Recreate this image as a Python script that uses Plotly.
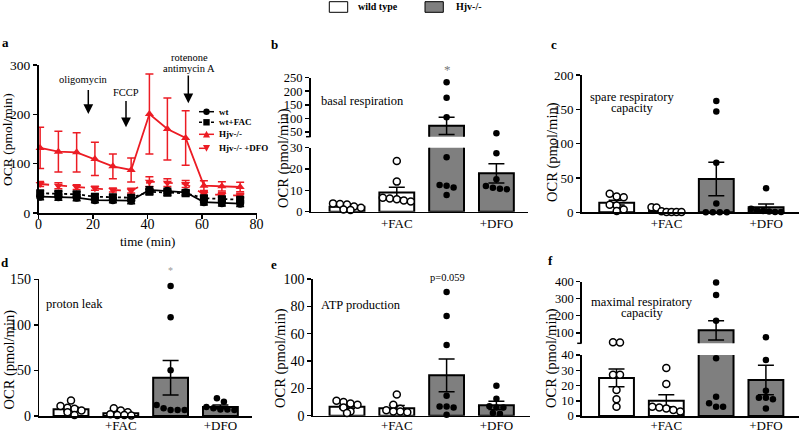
import plotly.graph_objects as go

SERIF = "Liberation Serif"
W, H = 800, 434
RED = "#ec1c24"
GRAY = "#7f7f7f"

# ---------------- panel a : OCR time course ----------------
time_min = [0.6, 7.3, 14.0, 20.7, 27.3, 34.0, 40.7, 47.3, 54.0, 60.7, 67.3, 74.0]
wt_ocr = [33, 32, 31, 26, 26, 25, 47, 45, 42, 22, 20, 19]
wt_sem = [6, 6, 6, 5, 5, 6, 6, 5, 5, 6, 6, 6]
wtfac_ocr = [40, 39, 38, 33, 32, 31, 43, 41, 40, 30, 28, 27]
wtfac_sem = [5, 5, 5, 5, 5, 5, 5, 5, 5, 5, 5, 5]
hjv_ocr = [131.8, 124.3, 123.0, 109.5, 94.6, 87.2, 200.7, 170.3, 152.0, 55.4, 54.0, 52.7]
hjv_sem = [41.8, 41.2, 39.8, 33.7, 25.0, 24.3, 81.0, 62.7, 55.4, 10.0, 9.5, 9.5]
hjvdfo_ocr = [58.8, 55.4, 52.5, 50.0, 46.6, 45.3, 63.5, 61.5, 58.8, 38.5, 36.5, 35.1]
hjvdfo_sem = [5, 6, 5, 4, 4, 5, 10, 8, 7, 5, 5, 5]

# ---------------- bar panels (groups) ----------------
groups = ["wild type", "wild type +FAC", "Hjv-/-", "Hjv-/- +DFO"]
group_ticks = ["+FAC", "+DFO"]

basal_mean = [2.3, 9.0, 72.0, 18.0]
basal_sem = [0.5, 2.5, 32.0, 4.5]
basal_wt = [3.9, 3.6, 3.4, 2.4, 1.8, 1.0, 0.8]
basal_wtfac = [23.8, 14.1, 6.5, 6.2, 5.8, 5.3, 4.8]
basal_hjv = [233, 176, 104, 25.5, 12.5, 12.2, 11.4, 7.8]
basal_hjvdfo = [45, 27.4, 15.2, 12.0, 11.2, 10.8, 10.5]

spare_mean = [14.0, 2.0, 48.5, 7.3]
spare_sem = [3.5, 1.3, 24.5, 4.7]
spare_wt = [27, 23, 22, 11, 10, 4, 2]
spare_wtfac = [7.5, 7, 1.5, 0.5, 0.3, 0.3, 0.3]
spare_hjv = [162, 147, 72, 13, 0, 0, 0, 0]
spare_hjvdfo = [35, 5, 3, 2, 1, 0.5, 0.5]

leak_mean = [7.5, 3.0, 42.0, 10.0]
leak_sem = [2.0, 1.2, 19.0, 2.0]
leak_wt = [17, 11, 9, 8, 6, 4, 1]
leak_wtfac = [8.5, 6, 4, 2, 1, 1, 0.5]
leak_hjv = [142.7, 108.3, 50.1, 12, 8.4, 6.6, 6.6, 6.6]
leak_hjvdfo = [19.5, 15.5, 10, 8.5, 7, 6.5, 7]

atp_mean = [6.5, 5.5, 29.5, 7.6]
atp_sem = [1.2, 2.0, 12.0, 3.0]
atp_wt = [11, 10, 9, 8, 6, 3, 2]
atp_wtfac = [15.5, 8, 5, 4, 3, 3, 2.5]
atp_hjv = [90.5, 73, 51.7, 14.6, 6.8, 6.8, 6.0, 0.7]
atp_hjvdfo = [22, 12.4, 7, 6, 6, 2, 1.5]

max_mean = [25.0, 10.0, 114.0, 23.6]
max_sem = [5.8, 4.0, 57.0, 9.7]
max_wt = [44, 43, 27, 27, 17, 11, 6]
max_wtfac = [31.5, 21, 6, 5.5, 5, 4, 3]
max_hjv = [396, 322, 171, 37.8, 12.7, 8.3, 6.1, 6.1]
max_hjvdfo = [73, 36.7, 16.6, 12, 12, 11, 5]


# ---------------- helpers ----------------
def px_x(p):
    return p / W


def px_y(p):
    return 1 - p / H


fig = go.Figure()
lay = dict(template="none", width=W, height=H, margin=dict(l=0, r=0, t=0, b=0, pad=0),
           paper_bgcolor="white", plot_bgcolor="rgba(0,0,0,0)",
           showlegend=False, font=dict(family=SERIF, color="black"))
shapes = []
annos = []
counter = [0]


def axis_style(fs):
    return dict(showline=True, linecolor="black", linewidth=1.5, ticks="outside",
                ticklen=4, tickwidth=1.5, tickcolor="black", showgrid=False,
                zeroline=False, fixedrange=True, automargin=False,
                tickfont=dict(family=SERIF, size=fs, color="black"))


def new_axes(x0, x1, ytop, ybot, xrange, yrange, xkw, ykw):
    counter[0] += 1
    n = counter[0]
    s = "" if n == 1 else str(n)
    lay["xaxis" + s] = dict(domain=[px_x(x0), px_x(x1)], range=xrange, anchor="y" + s, **xkw)
    lay["yaxis" + s] = dict(domain=[px_y(ybot), px_y(ytop)], range=yrange, anchor="x" + s, **ykw)
    return "x" + s, "y" + s


def text(x, y, t, size=12.5, color="black", xanchor="center", bold=False, angle=0):
    annos.append(dict(x=px_x(x), y=px_y(y), xref="paper", yref="paper",
                      text=("<b>%s</b>" % t) if bold else t, showarrow=False,
                      xanchor=xanchor, yanchor="middle", textangle=angle,
                      font=dict(family=SERIF, size=size, color=color)))


def arrow(x, ytip, ytail):
    annos.append(dict(x=px_x(x), y=px_y(ytip), xref="paper", yref="paper", text="",
                      showarrow=True, ax=0, ay=ytail - ytip, axref="pixel", ayref="pixel",
                      arrowhead=2, arrowsize=1.3, arrowwidth=1.5, arrowcolor="black",
                      standoff=0, startstandoff=0))


# ---------------- panel a ----------------
xa, ya = new_axes(38.5, 256.5, 65, 213, [0, 80], [0, 300],
                  dict(axis_style(14), tickvals=[0, 20, 40, 60, 80], ticklabelstandoff=-6),
                  dict(axis_style(13.5), tickvals=[0, 100, 200, 300]))
series = [
    (hjvdfo_ocr, hjvdfo_sem, RED, "dash", "triangle-down"),
    (hjv_ocr, hjv_sem, RED, "solid", "triangle-up"),
    (wtfac_ocr, wtfac_sem, "black", "dot", "square"),
    (wt_ocr, wt_sem, "black", "solid", "circle"),
]
for yv, ev, c, dash, sym in series:
    fig.add_trace(go.Scatter(
        x=time_min, y=yv, mode="lines+markers", xaxis=xa, yaxis=ya,
        line=dict(color=c, width=1.8, dash=dash),
        marker=dict(symbol=sym, size=8, color=c),
        error_y=dict(type="data", array=ev, color=c, thickness=1.5, width=4),
        cliponaxis=False))

text(147, 241, "time (min)", 13)
text(8, 140, "OCR (pmol/min)", 13.5, angle=-90)
text(83.7, 80, "oligomycin", 10.5)
arrow(88.3, 114, 88.5)
text(125.8, 92.7, "FCCP", 10.5)
arrow(126, 127.3, 99.5)
text(189, 58, "rotenone", 10.5)
text(189, 68, "antimycin A", 10.5)
arrow(188.3, 103.3, 74)

# manual legend for panel a
leg_rows = [(111.7, "black", "solid", "circle", "wt"),
            (122.3, "black", "dot", "square", "wt+FAC"),
            (134.3, RED, "solid", "up", "Hjv-/-"),
            (148.3, RED, "dash", "down", "Hjv-/- +DFO")]
for yy, c, dash, sym, lab in leg_rows:
    shapes.append(dict(type="line", xref="paper", yref="paper", x0=px_x(199), x1=px_x(214),
                       y0=px_y(yy), y1=px_y(yy), line=dict(color=c, width=1.5, dash=dash)))
    cx, r = 206.5, 3.2
    if sym == "circle":
        shapes.append(dict(type="circle", xref="paper", yref="paper", x0=px_x(cx - r), x1=px_x(cx + r),
                           y0=px_y(yy + r), y1=px_y(yy - r), fillcolor=c, line=dict(width=0)))
    elif sym == "square":
        shapes.append(dict(type="rect", xref="paper", yref="paper", x0=px_x(cx - r), x1=px_x(cx + r),
                           y0=px_y(yy + r), y1=px_y(yy - r), fillcolor=c, line=dict(width=0)))
    else:
        s = -1 if sym == "up" else 1
        p = "M %f,%f L %f,%f L %f,%f Z" % (px_x(cx), px_y(yy + s * r * 1.1),
                                           px_x(cx - r * 1.1), px_y(yy - s * r),
                                           px_x(cx + r * 1.1), px_y(yy - s * r))
        shapes.append(dict(type="path", xref="paper", yref="paper", path=p, fillcolor=c,
                           line=dict(width=0)))
    text(216.7, yy, lab, 9, xanchor="left", bold=True)

# ---------------- bar panels ----------------
PXC = 49.8  # pixels per category


def swarm(vals, to_px, tol=5.0):
    order = sorted(range(len(vals)), key=lambda i: -vals[i])
    rows = []
    for i in order:
        p = to_px(vals[i])
        if rows and abs(p - rows[-1][0]) < tol:
            rows[-1][1].append(i)
        else:
            rows.append([p, [i]])
    offs = [0.0] * len(vals)
    for p, idx in rows:
        k = len(idx)
        dx = 7.0 if k < 2 else min(7.0, 30.0 / (k - 1))
        for j, i in enumerate(idx):
            offs[i] = (j - (k - 1) / 2) * dx / PXC
    return offs


def bar_panel(xl, c0, xr, segs, fs, means, sems, pts, lab_shift):
    xrange_ = [-(c0 - xl) / PXC, (xr - c0) / PXC]

    def seg_index(v):
        for i, sg in enumerate(segs):
            if v <= sg[1]:
                return i
        return len(segs) - 1

    def to_px(v):
        lo, hi, pb, pt, tv = segs[seg_index(v)]
        return pb - (max(v, lo) - lo) / (hi - lo) * (pb - pt)

    for i, (lo, hi, pb, pt, tv) in enumerate(segs):
        if i == 0:
            xkw = dict(axis_style(13), tickvals=[1, 3], ticktext=group_ticks,
                       tickcolor="rgba(0,0,0,0)", ticklen=2, ticklabelstandoff=lab_shift)
        else:
            xkw = dict(visible=False, automargin=False)
            shapes.append(dict(type="line", xref="paper", yref="paper", x0=px_x(xl - 4.5),
                               x1=px_x(xl), y0=px_y(pb), y1=px_y(pb),
                               line=dict(color="black", width=1.5)))
        ykw = dict(axis_style(fs), tickvals=tv)
        xa, ya = new_axes(xl, xr, pt, pb, xrange_, [lo, hi], xkw, ykw)
        fig.add_trace(go.Bar(x=[0, 1, 2, 3], y=means, width=0.7, xaxis=xa, yaxis=ya,
                             marker=dict(color=["white", "white", GRAY, GRAY],
                                         line=dict(color="black", width=2))))
        ey = [m if seg_index(m) == i else None for m in means]
        es = [s if seg_index(m) == i else 0 for m, s in zip(means, sems)]
        fig.add_trace(go.Scatter(x=[0, 1, 2, 3], y=ey, mode="markers", xaxis=xa, yaxis=ya,
                                 marker=dict(size=2, color="rgba(0,0,0,0)"),
                                 error_y=dict(type="data", array=es, color="black",
                                              thickness=1.5, width=8)))
        for g, vals in enumerate(pts):
            offs = swarm(vals, to_px)
            xs = [g + o for o, v in zip(offs, vals) if seg_index(v) == i]
            ys = [v for v in vals if seg_index(v) == i]
            if g < 2:
                mk = dict(symbol="circle", size=7, color="white", line=dict(color="black", width=1.5))
            else:
                mk = dict(symbol="circle", size=6.5, color="black", line=dict(width=0))
            fig.add_trace(go.Scatter(x=xs, y=ys, mode="markers", xaxis=xa, yaxis=ya,
                                     marker=mk, cliponaxis=False))


# b basal respiration (broken axis)
bar_panel(310.5, 347, 528,
          [(0, 30, 211.7, 147.7, [0, 10, 20, 30]),
           (32, 250, 136.7, 77.7, [50, 100, 150, 200, 250])],
          12.5, basal_mean, basal_sem, [basal_wt, basal_wtfac, basal_hjv, basal_hjvdfo], -3)
# c spare respiratory capacity
bar_panel(581.7, 616.7, 799,
          [(0, 200, 212.3, 75, [0, 50, 100, 150, 200])],
          13, spare_mean, spare_sem, [spare_wt, spare_wtfac, spare_hjv, spare_hjvdfo], -3)
# d proton leak
bar_panel(39.3, 71, 252,
          [(0, 150, 416, 279.3, [0, 50, 100, 150])],
          14, leak_mean, leak_sem, [leak_wt, leak_wtfac, leak_hjv, leak_hjvdfo], -5)
# e ATP production
bar_panel(312.7, 347, 530,
          [(0, 100, 415.7, 279, [0, 20, 40, 60, 80, 100])],
          14, atp_mean, atp_sem, [atp_wt, atp_wtfac, atp_hjv, atp_hjvdfo], -5)
# f maximal respiratory capacity (broken axis)
bar_panel(581.7, 616.5, 799,
          [(0, 40, 416, 355, [0, 10, 20, 30, 40]),
           (38, 400, 343.3, 281.7, [100, 200, 300, 400])],
          12.5, max_mean, max_sem, [max_wt, max_wtfac, max_hjv, max_hjvdfo], -5)

# y titles
text(283, 158, "OCR (pmol/min)", 14.5, angle=-90)
text(552, 152, "OCR (pmol/min)", 14.5, angle=-90)
text(8.5, 360, "OCR (pmol/min)", 14.5, angle=-90)
text(280, 358, "OCR (pmol/min)", 14.5, angle=-90)
text(551, 358, "OCR (pmol/min)", 14.5, angle=-90)

# panel notes
text(362.5, 101, "basal respiration", 12.5)
text(632, 96.5, "spare respiratory", 12.5)
text(632, 107.5, "capacity", 12.5)
text(74.7, 304, "proton leak", 12.5)
text(361, 305, "ATP production", 12.5)
text(641.7, 302, "maximal respiratory", 12.5)
text(641.7, 313, "capacity", 12.5)
text(447.7, 70, "*", 13, color="#777777")
text(170, 270, "*", 10, color="#999999")
text(447, 277, "p=0.059", 10.5)

# panel letters
for lab, x, y in [("a", 5, 43), ("b", 274, 45), ("c", 554, 45),
                  ("d", 5, 262), ("e", 274, 264), ("f", 550, 260)]:
    text(x, y, lab, 13, bold=True)

# top legend
shapes.append(dict(type="rect", xref="paper", yref="paper", x0=px_x(329.3), x1=px_x(347.7),
                   y0=px_y(12.3), y1=px_y(1.7), fillcolor="white", line=dict(color="black", width=1)))
shapes.append(dict(type="rect", xref="paper", yref="paper", x0=px_x(425), x1=px_x(443.3),
                   y0=px_y(12.3), y1=px_y(1.7), fillcolor=GRAY, line=dict(color="black", width=1)))
text(356, 7, "wild type", 10, xanchor="left", bold=True)
text(454, 7, "Hjv-/-", 10, xanchor="left", bold=True)

lay["shapes"] = shapes
lay["annotations"] = annos
fig.update_layout(**lay)
fig.write_html("out.html", config={"displayModeBar": False, "staticPlot": True},
               post_script="document.body.style.margin='0';document.body.style.overflow='hidden';")
